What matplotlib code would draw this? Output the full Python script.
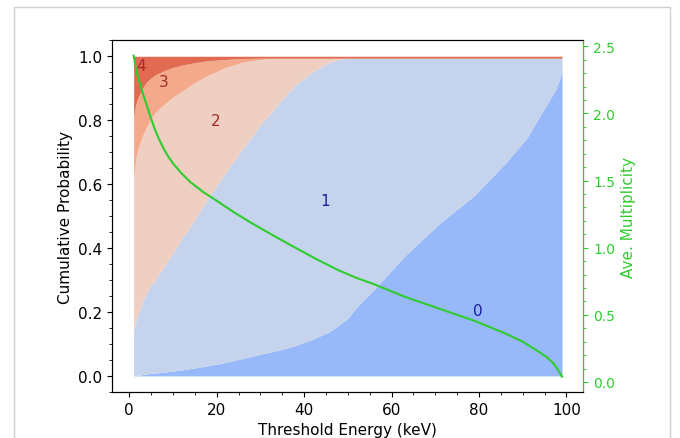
import numpy as np
import matplotlib
matplotlib.use('Agg')
import matplotlib.pyplot as plt
from matplotlib.ticker import AutoMinorLocator

# threshold energies (keV) at which the bands were read
energy = [1, 1.5, 2, 3, 4, 5, 6, 8, 10, 12, 15, 18, 22, 26, 30, 34, 38, 42,
          46, 48, 50, 52, 56, 63, 71, 79, 86, 91, 94, 96, 97.5, 98.5, 99]

# cumulative probability, top edge of each multiplicity band
cum0 = [0.0, 0.001, 0.002, 0.004, 0.006, 0.008, 0.009, 0.012, 0.015, 0.019,
        0.025, 0.032, 0.042, 0.055, 0.068, 0.08, 0.095, 0.115, 0.14, 0.16,
        0.18, 0.215, 0.27, 0.375, 0.477, 0.565, 0.665, 0.745, 0.815, 0.86,
        0.895, 0.93, 0.96]
cum1 = [0.14, 0.17, 0.195, 0.23, 0.262, 0.283, 0.303, 0.343, 0.385, 0.428,
        0.49, 0.555, 0.635, 0.712, 0.785, 0.85, 0.91, 0.952, 0.982, 0.99,
        0.994, 0.994, 0.994, 0.994, 0.994, 0.994, 0.994, 0.994, 0.994, 0.994,
        0.994, 0.994, 0.994]
cum2 = [0.617, 0.68, 0.71, 0.75, 0.78, 0.805, 0.825, 0.85, 0.872, 0.89, 0.918,
        0.94, 0.965, 0.982, 0.99, 0.994, 0.994, 0.994, 0.994, 0.994, 0.994,
        0.994, 0.994, 0.994, 0.994, 0.994, 0.994, 0.994, 0.994, 0.994, 0.994,
        0.994, 0.994]
cum3 = [0.808, 0.85, 0.87, 0.9, 0.92, 0.932, 0.942, 0.955, 0.965, 0.972, 0.98,
        0.986, 0.99, 0.993, 0.994, 0.994, 0.994, 0.994, 0.994, 0.994, 0.994,
        0.994, 0.994, 0.994, 0.994, 0.994, 0.994, 0.994, 0.994, 0.994, 0.994,
        0.994, 0.994]
cum4 = [1.0] * len(energy)

# average multiplicity
mult_x = [1, 1.5, 2, 3, 4, 5, 6, 7, 8, 9, 10, 12, 14, 17, 20, 24, 28, 33, 38,
          43, 48, 52, 56, 63, 71, 79, 86, 90, 93, 95.5, 97, 98, 99]
mult = [2.43, 2.34, 2.27, 2.16, 2.06, 1.96, 1.87, 1.795, 1.73, 1.675, 1.628,
        1.553, 1.488, 1.413, 1.35, 1.263, 1.183, 1.09, 1.0, 0.912, 0.83, 0.775,
        0.728, 0.635, 0.545, 0.455, 0.362, 0.30, 0.24, 0.185, 0.14, 0.095, 0.04]

colors = ['#97b9f9', '#c5d4ec', '#efcfc1', '#f4aa8a', '#e06a52']
labels = ['0', '1', '2', '3', '4']
label_pos = [(79.7, 0.205), (44.9, 0.55), (19.7, 0.80), (7.9, 0.92), (2.8, 0.97)]
label_col = ['#1c1c9c', '#1c1c9c', '#a52a2a', '#a52a2a', '#a52a2a']

fig, ax = plt.subplots(figsize=(6.8, 4.39), dpi=100)
fig.subplots_adjust(left=0.165, right=0.858, top=0.906, bottom=0.105)

bands = [np.zeros(len(energy)), cum0, cum1, cum2, cum3, cum4]
for i in range(5):
    ax.fill_between(energy, bands[i], bands[i + 1], color=colors[i], lw=0)
for lab, (lx, ly), c in zip(labels, label_pos, label_col):
    ax.text(lx, ly, lab, color=c, fontsize=11, ha='center', va='center')

ax.set_xlabel('Threshold Energy (keV)', fontsize=11)
ax.set_ylabel('Cumulative Probability', fontsize=11)
ax.tick_params(labelsize=11)
ax.xaxis.set_minor_locator(AutoMinorLocator())
ax.yaxis.set_minor_locator(AutoMinorLocator())

ax2 = ax.twinx()
green = '#2ecc2e'
ax2.plot(mult_x, mult, color=green, lw=1.5)
ax2.set_ylabel('Ave. Multiplicity', color=green, fontsize=11)
ax2.tick_params(axis='y', which='both', colors=green, labelsize=10)
ax2.spines['right'].set_color(green)
ax2.yaxis.set_minor_locator(AutoMinorLocator())
ax2.set_ylim(-0.074, 2.545)
ax2.set_yticks([0.0, 0.5, 1.0, 1.5, 2.0, 2.5])

fig.patches.append(plt.Rectangle((0.02, -0.05), 0.965, 1.032, transform=fig.transFigure,
                                 fill=False, edgecolor='#d0d0d0', lw=1))

fig.savefig('out.png', dpi=100)
